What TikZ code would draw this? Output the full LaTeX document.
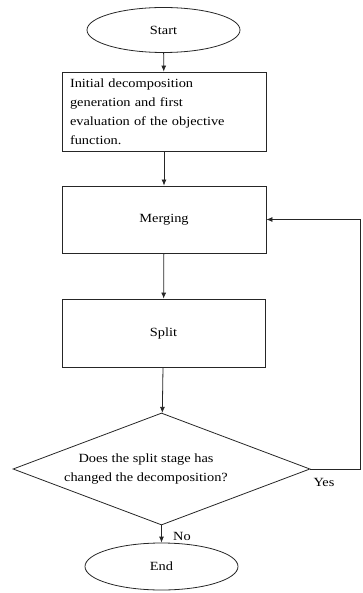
\documentclass[tikz,border=0pt]{standalone}
\usepackage{fontspec}
\setmainfont[FakeStretch=1.15]{Liberation Serif}
\usetikzlibrary{shapes.geometric,arrows.meta}
\begin{document}
\begin{tikzpicture}[x=1pt,y=-1pt,
  every node/.style={font=\fontsize{12.5}{19}\selectfont},
  ln/.style={draw=black!85,line width=0.8pt},
  term/.style={ln,ellipse,inner sep=0pt,minimum width=153pt,minimum height=45pt},
  procbox/.style={ln,rectangle,inner sep=0pt,minimum width=204pt},
  decbox/.style={ln,diamond,inner sep=0pt,minimum width=297pt,minimum height=112pt},
  arr/.style={ln,-{Latex[length=6pt,width=5pt]}},
  lbl/.style={inner sep=1pt}
]
\useasboundingbox (0,0) rectangle (363,593);
\node[term] (start) at (163.5,30) {Start};
\node[procbox,minimum height=79pt,text width=188pt,align=left,inner xsep=8pt] (init) at (164,111.5)
  {Initial decomposition\\generation and first\\evaluation of the objective\\function.};
\node[procbox,minimum height=67pt] (merge) at (164,219.5) {Merging};
\node[procbox,minimum width=203pt,minimum height=68pt] (split) at (163.5,333) {Split};
\node[decbox] (dec) at (161.5,469) {};
\node[align=center,inner sep=0pt] (dectxt) at (146,469) {Does the split stage has\\changed the decomposition?};
\node[term,minimum height=47pt] (end) at (161.5,566.5) {End};
\coordinate (fb) at (360,469);
\draw[arr] (start) -- (init);
\draw[arr] (init) -- (merge);
\draw[arr] (merge) -- (split);
\draw[arr] (split) -- (dec);
\draw[arr] (dec) -- (end);
\draw[arr] (dec.east) -- (fb) |- (merge.east);
\node[lbl] (yes) at (324,482) {Yes};
\node[lbl] (no) at (182,536) {No};
\end{tikzpicture}
\end{document}
